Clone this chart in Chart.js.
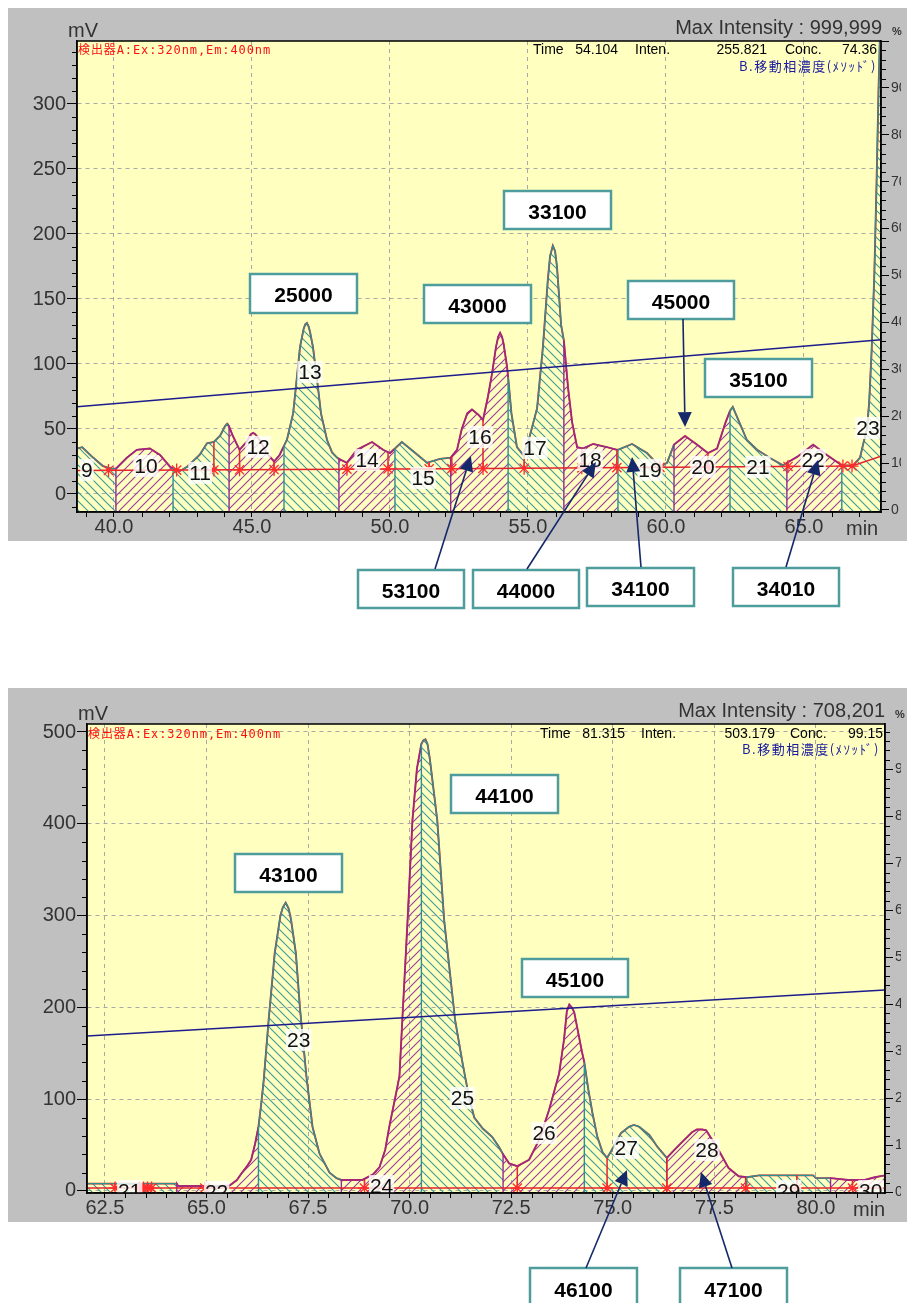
<!DOCTYPE html>
<html>
<head>
<meta charset="utf-8">
<script src="https://cdn.jsdelivr.net/npm/chart.js@4/dist/chart.umd.min.js"></script>
<style>
  html, body { margin: 0; padding: 0; background: #fff; }
  #wrap { position: relative; width: 907px; height: 1303px; overflow: hidden; }
  canvas { position: absolute; left: 0; }
</style>
</head>
<body>
<div id="wrap">
  <canvas id="runA" width="907" height="650" style="top:0px"></canvas>
  <canvas id="runB" width="907" height="653" style="top:650px"></canvas>
</div>
<script>
// ---------- Run A (38.7 – 67.8 min) ----------
const timeA = [
  38.66, 38.85, 39.24, 39.6, 39.9, 40.07, 40.47, 40.83, 41.3, 41.67,
  42.03, 42.14, 42.39, 42.64, 43.1, 43.37, 43.62, 43.85, 44.02, 44.1, 44.17,
  44.3, 44.55, 44.8, 44.96, 45.04, 45.12, 45.3, 45.55, 45.8, 46.0, 46.16, 46.27,
  46.49, 46.59, 46.74, 46.87, 46.93, 46.99, 47.05, 47.1, 47.21, 47.39, 47.5, 47.72,
  47.9, 48.08, 48.15, 48.44, 48.8, 49.35, 49.75, 50.0, 50.18, 50.43,
  50.83, 51.34, 51.81, 52.2, 52.43, 52.6, 52.8, 52.97, 53.2, 53.37,
  53.55, 53.7, 53.84, 53.92, 53.99, 54.06, 54.12, 54.24, 54.28, 54.4, 54.6, 54.83,
  55.07, 55.33, 55.54, 55.72, 55.8, 55.9, 55.98, 56.05, 56.2, 56.3, 56.45, 56.6,
  56.78, 56.99, 57.36, 57.86, 58.22, 58.26, 58.77, 59.31, 59.78, 60.04,
  60.29, 60.69, 61.12, 61.52, 61.85, 62.14, 62.32, 62.42, 62.68, 62.93,
  63.3, 63.77, 64.24, 64.38, 64.75, 65.33, 65.83, 66.37, 66.78, 67.03,
  67.14, 67.28, 67.36, 67.45, 67.55, 67.63, 67.7, 67.76, 67.79
];
const signalA = [
  35, 36, 28, 21.5, 19.5, 19.5, 28, 34, 35, 30,
  21, 19.5, 17.7, 20.8, 30, 39, 40, 45, 52, 54, 52,
  45, 34, 40, 46, 47, 46, 41, 31, 25, 30, 37, 42,
  62, 82, 113, 127, 130.5, 131.5, 129, 125, 113, 82, 62, 41.5,
  32, 28, 27, 24, 34, 40, 34, 31.5, 35, 40,
  33, 24, 27, 28, 34, 50, 62, 65, 61, 57,
  75, 93, 113, 121, 124, 121, 115, 98, 90, 62, 36, 30,
  45, 66, 113, 165, 183, 191, 187, 175, 130, 118, 82, 55,
  36, 35, 38.5, 36, 34, 34, 38.5, 31.5, 21, 24,
  38, 44.6, 38, 31.5, 35, 54, 64, 67, 54, 41.5,
  34, 27.7, 22, 24, 28.5, 38, 30, 22, 22, 28,
  38, 50, 70, 110, 170, 240, 310, 360, 370
];
const cutsA = [38.66, 40.07, 42.14, 44.17, 46.16, 48.15, 50.18, 52.2, 54.28, 56.3, 58.26, 60.29, 62.32, 64.38, 66.37, 67.79];
const peakNoA = ['9', '10', '11', '12', '13', '14', '15', '16', '17', '18', '19', '20', '21', '22', '23'];
const baseTimeA = [38.66, 52.2, 66.74, 67.79];
const baseLevelA = [18, 19.5, 21.5, 29];
const markTimeA = [39.8, 42.27, 43.62, 44.55, 45.8, 48.44, 49.93, 51.42, 52.24, 53.37, 54.86, 56.95, 58.22, 59.78, 61.52, 64.42, 66.41, 66.74];
const markBaseA = [18.1, 18.4, 18.5, 18.6, 18.8, 19.1, 19.3, 19.4, 19.5, 19.7, 19.8, 20.1, 20.3, 20.5, 20.8, 21.2, 21.5, 21.5];
const markTopA  = [20, 18.5, 40, 34, 25, 24, 32, 24.5, 29, 57, 30.5, 35, 34, 21, 31.5, 24.5, 22, 22];
const gradTimeA = [38.66, 67.79];
const gradConcA = [22.0, 36.3];

// ---------- Run B (62.1 – 81.7 min) ----------
const timeB = [
  62.06, 62.5, 63.0, 63.5, 64.0, 64.27, 64.3, 64.8, 65.3, 65.57,
  65.75, 65.87, 66.0, 66.1, 66.2, 66.28, 66.34, 66.41, 66.53, 66.68,
  66.82, 66.88, 66.95, 67.02, 67.08, 67.2, 67.3, 67.46, 67.61, 67.78, 68.03, 68.2,
  68.32, 68.84, 69.1, 69.26, 69.4, 69.5, 69.67, 69.75, 69.82, 69.95,
  70.07, 70.18, 70.29, 70.34, 70.39, 70.44, 70.5, 70.68, 70.85, 71.12, 71.3, 71.45,
  71.59, 71.8, 72.03, 72.2, 72.3, 72.45, 72.65, 72.94, 73.19, 73.43,
  73.68, 73.8, 73.87, 73.93, 73.99, 74.05, 74.24, 74.3, 74.4, 74.5, 74.62, 74.75,
  74.86, 74.98, 75.2, 75.4, 75.52, 75.65, 75.9, 76.1, 76.33, 76.5, 76.7, 76.95, 77.07,
  77.2, 77.3, 77.6, 77.85, 78.1, 78.3, 78.6, 79.2, 79.93, 80.0, 80.36,
  80.8, 81.2, 81.45, 81.7
];
const signalB = [
  8, 8, 8, 8, 8, 8, 5.5, 5.5, 5.5, 6,
  12, 19.6, 27, 34, 52, 70, 92, 121, 186, 259,
  300, 309, 314, 308, 296, 259, 200, 125, 70, 41, 20, 14,
  12, 12, 18, 26, 45, 70, 107, 125, 186, 295,
  404, 460, 487, 491, 492, 487, 470, 404, 295, 186, 140, 105,
  80, 68, 59, 48, 40, 30, 27, 34, 56, 88,
  128, 165, 196, 203, 200, 195, 152, 140, 110, 85, 59, 42,
  36, 45, 63, 70, 72, 70, 61, 48, 36, 44, 53, 64, 67,
  67, 66, 45, 25, 16, 15, 17, 17, 17, 14, 14,
  12, 12, 15, 17
];
const cutsB = [62.06, 64.27, 66.28, 68.32, 70.29, 72.3, 74.3, 76.33, 78.3, 80.36, 81.7];
const peakNoB = ['21', '22', '23', '24', '25', '26', '27', '28', '29', '30'];
const baseTimeB = [62.06, 81.7];
const baseLevelB = [3.2, 3.2];
const markTimeB = [62.75, 63.35, 63.45, 63.55, 63.65, 64.96, 68.89, 72.65, 74.86, 76.33, 78.27, 79.53, 80.9];
const markBaseB = [3.2, 3.2, 3.2, 3.2, 3.2, 3.2, 3.2, 3.2, 3.2, 3.2, 3.2, 3.2, 3.2];
const markTopB  = [8, 8, 8, 8, 8, 5.5, 12, 27, 36, 36, 15, 17, 12];
const gradTimeB = [62.06, 81.7];
const gradConcB = [33.2, 43.0];

// Fraction codes written next to the peaks
const codesA = ['25000', '43000', '33100', '45000', '35100', '53100', '44000', '34100', '34010'];
const codesB = ['44100', '43100', '45100', '46100', '47100'];

// ---------- styling ----------
const PLOT_BG = '#ffffc0', PANEL = '#c0c0c0';
const TEAL = '#3a9c9c', PURPLE = '#9c3a9c';
const TEAL_EDGE = '#2b9090', PURPLE_EDGE = '#902b90';
const TRACE = '#e4242c', STAR = '#ff2a2a', GRAD = '#1c1c8c', ARROW = '#14286a';
const SANS = '"Liberation Sans", Arial, sans-serif';
const JP = '"DejaVu Sans Mono", "Noto Sans CJK JP", monospace';

function hatch(ctx, color, dir) {
  const s = 9, c = document.createElement('canvas');
  c.width = s; c.height = s;
  const g = c.getContext('2d');
  g.strokeStyle = color; g.lineWidth = 1.1;
  g.beginPath();
  if (dir > 0) {            // rising hatch  /
    g.moveTo(0, s); g.lineTo(s, 0);
    g.moveTo(-1, 1); g.lineTo(1, -1);
    g.moveTo(s - 1, s + 1); g.lineTo(s + 1, s - 1);
  } else {                  // falling hatch \
    g.moveTo(0, 0); g.lineTo(s, s);
    g.moveTo(-1, s - 1); g.lineTo(1, s + 1);
    g.moveTo(s - 1, -1); g.lineTo(s + 1, 1);
  }
  g.stroke();
  return ctx.createPattern(c, 'repeat');
}

function xy(ts, vs) { return ts.map((t, i) => ({ x: t, y: vs[i] })); }

function minorTicks(ctx, scale, step, major, len, side) {
  const n0 = Math.ceil(scale.min / step - 1e-9), n1 = Math.floor(scale.max / step + 1e-9);
  const per = Math.round(major / step);
  ctx.beginPath();
  for (let n = n0; n <= n1; n++) {
    if (n % per === 0) continue;
    const p = Math.round(scale.getPixelForValue(n * step)) + 0.5;
    if (side === 'bottom') { ctx.moveTo(p, scale.top); ctx.lineTo(p, scale.top + len); }
    else if (side === 'left') { ctx.moveTo(scale.right, p); ctx.lineTo(scale.right - len, p); }
    else { ctx.moveTo(scale.left, p); ctx.lineTo(scale.left + len, p); }
  }
  ctx.stroke();
}

function text(ctx, s, x, y, font, color, align, spacing) {
  ctx.save();
  ctx.font = font; ctx.fillStyle = color; ctx.textAlign = align || 'left';
  ctx.textBaseline = 'alphabetic';
  if (spacing && 'letterSpacing' in ctx) ctx.letterSpacing = spacing + 'px';
  ctx.fillText(s, x, y);
  ctx.restore();
}

const decor = {
  id: 'decor',
  beforeDraw(chart, args, o) {
    const { ctx, chartArea: a } = chart;
    ctx.save();
    ctx.fillStyle = '#fff'; ctx.fillRect(0, 0, chart.width, chart.height);
    ctx.fillStyle = PANEL; ctx.fillRect(o.panel[0], o.panel[1], o.panel[2], o.panel[3]);
    ctx.fillStyle = PLOT_BG; ctx.fillRect(a.left, a.top, a.right - a.left, a.bottom - a.top);
    ctx.restore();
  },
  afterDatasetsDraw(chart, args, o) {
    const { ctx, chartArea: a, scales } = chart;
    ctx.save();
    ctx.beginPath(); ctx.rect(a.left, a.top, a.right - a.left, a.bottom - a.top); ctx.clip();
    ctx.font = '21px ' + SANS; ctx.textAlign = 'center'; ctx.textBaseline = 'middle';
    o.peakNo.forEach((no, i) => {
      const px = scales.x.getPixelForValue(o.peakAt[i][0]);
      const py = scales.y.getPixelForValue(o.peakAt[i][1]);
      const w = ctx.measureText(no).width;
      ctx.fillStyle = 'rgba(255,255,255,0.8)';
      ctx.fillRect(px - w / 2 - 1, py - 11, w + 2, 22);
      ctx.fillStyle = '#111';
      ctx.fillText(no, px, py + 1);
    });
    ctx.restore();
  },
  afterDraw(chart, args, o) {
    const { ctx, chartArea: a, scales } = chart;
    const dy = o.offset;
    ctx.save();
    // frame
    ctx.strokeStyle = '#000'; ctx.lineWidth = 1.5;
    ctx.strokeRect(a.left, a.top, a.right - a.left, a.bottom - a.top);
    // minor ticks
    ctx.lineWidth = 1; ctx.strokeStyle = '#000';
    minorTicks(ctx, scales.x, o.minor.x[0], o.minor.x[1], 5, 'bottom');
    minorTicks(ctx, scales.y, o.minor.y[0], o.minor.y[1], 5, 'left');
    minorTicks(ctx, scales.yR, o.minor.r[0], o.minor.r[1], 5, 'right');
    ctx.restore();

    // header texts
    o.texts.forEach(t => text(ctx, t[0], t[1], t[2] - dy, t[3], t[4], t[5], t[6]));

    // fraction boxes
    ctx.save();
    o.boxes.forEach((b, i) => {
      const [x, y, w, h] = b;
      ctx.fillStyle = '#fff'; ctx.fillRect(x, y - dy, w, h);
      ctx.strokeStyle = '#4f9c9c'; ctx.lineWidth = 2.5;
      ctx.strokeRect(x, y - dy, w, h);
      ctx.fillStyle = '#000'; ctx.font = 'bold 21px ' + SANS;
      ctx.textAlign = 'center'; ctx.textBaseline = 'middle';
      ctx.fillText(o.codes[i], x + w / 2, y - dy + h / 2 + 3);
    });
    // arrows to peaks
    ctx.strokeStyle = ARROW; ctx.fillStyle = ARROW; ctx.lineWidth = 1.6;
    o.arrows.forEach(ar => {
      const x0 = ar[0], y0 = ar[1] - dy;
      const x1 = scales.x.getPixelForValue(ar[2]), y1 = scales.y.getPixelForValue(ar[3]);
      const ang = Math.atan2(y1 - y0, x1 - x0), L = 15, W = 7;
      const bx = x1 - L * Math.cos(ang), by = y1 - L * Math.sin(ang);
      ctx.beginPath(); ctx.moveTo(x0, y0); ctx.lineTo(bx, by); ctx.stroke();
      ctx.beginPath();
      ctx.moveTo(x1, y1);
      ctx.lineTo(bx + W * Math.sin(ang), by - W * Math.cos(ang));
      ctx.lineTo(bx - W * Math.sin(ang), by + W * Math.cos(ang));
      ctx.closePath(); ctx.fill();
    });
    ctx.restore();
  }
};

function buildRun(canvasId, d, lay) {
  const canvas = document.getElementById(canvasId);
  const ctx = canvas.getContext('2d');
  const tealHatch = hatch(ctx, TEAL, -1), purpleHatch = hatch(ctx, PURPLE, 1);
  const yMin = lay.yRange[0];
  const pts = xy(d.time, d.signal);
  const datasets = [];

  d.cuts.slice(0, -1).forEach((c, k) => {
    const i0 = d.time.indexOf(c), i1 = d.time.indexOf(d.cuts[k + 1]);
    const seg = pts.slice(i0, i1 + 1);
    const teal = k % 2 === 0;
    // hatched area under one peak
    datasets.push({
      data: [{ x: c, y: yMin }, ...seg, { x: d.cuts[k + 1], y: yMin }],
      fill: 'start', backgroundColor: teal ? tealHatch : purpleHatch,
      borderColor: 'rgba(0,0,0,0)', borderWidth: 0, order: 300 - k
    });
    // its outline with the drop line on the left
    datasets.push({
      data: k === 0 ? seg : [{ x: c, y: yMin }, ...seg],
      fill: false, borderColor: teal ? TEAL_EDGE : PURPLE_EDGE, borderWidth: 1.4, order: 100 - k
    });
  });
  // detector trace
  datasets.push({ data: pts, borderColor: TRACE, borderWidth: 1.9, order: 150 });
  // mobile phase B gradient
  datasets.push({ data: xy(d.gradTime, d.gradConc), yAxisID: 'yR', borderColor: GRAD, borderWidth: 1.6, order: 40 });
  // integration baseline
  datasets.push({ data: xy(d.baseTime, d.baseLevel), borderColor: TRACE, borderWidth: 1.5, order: 30 });
  // peak start / end marks
  d.markTime.forEach((t, i) => datasets.push({
    data: [{ x: t, y: d.markBase[i] }, { x: t, y: d.markTop[i] }],
    borderColor: TRACE, borderWidth: 1.5, order: 20
  }));
  datasets.push({
    data: xy(d.markTime, d.markBase), showLine: false, pointStyle: 'star',
    pointRadius: 6.5, pointBorderColor: STAR, pointBackgroundColor: STAR, pointBorderWidth: 1.3, order: 10
  });

  const tickFont = { family: '"Liberation Sans", Arial, sans-serif', size: 20 };
  new Chart(ctx, {
    type: 'line',
    data: { datasets },
    plugins: [decor],
    options: {
      responsive: false, animation: false, events: [],
      layout: { padding: lay.padding },
      elements: { point: { radius: 0 }, line: { tension: 0 } },
      plugins: {
        legend: { display: false }, tooltip: { enabled: false },
        decor: {
          panel: lay.panel, offset: lay.offset, minor: lay.minor,
          peakNo: d.peakNo, peakAt: lay.peakAt, texts: lay.texts,
          boxes: lay.boxes, codes: d.codes, arrows: lay.arrows
        }
      },
      scales: {
        x: {
          type: 'linear', position: 'bottom', min: lay.xRange[0], max: lay.xRange[1],
          ticks: { stepSize: lay.xStep, includeBounds: false, autoSkip: false, maxRotation: 0,
                   callback: v => v.toFixed(1), font: tickFont, color: '#333', padding: -2 },
          grid: { color: '#a8a8a8', tickColor: '#000', tickLength: 5, lineWidth: 1 },
          border: { color: '#000', width: 1.5, dash: [4, 4] },
          afterFit: s => { s.height = 30; }
        },
        y: {
          type: 'linear', position: 'left', min: lay.yRange[0], max: lay.yRange[1],
          ticks: { stepSize: lay.yStep, includeBounds: false, font: tickFont, color: '#333', padding: 1,
                   callback: v => String(v) },
          grid: { color: '#a8a8a8', tickColor: '#000', tickLength: 10, lineWidth: 1 },
          border: { color: '#000', width: 1.5, dash: [4, 4] },
          afterFit: s => { s.width = lay.leftW; }
        },
        yR: {
          type: 'linear', position: 'right', min: lay.rRange[0], max: lay.rRange[1],
          ticks: { stepSize: 10, includeBounds: false, font: { family: '"Liberation Sans", Arial, sans-serif', size: 14 },
                   color: '#333', padding: 2, callback: v => (v >= 0 && v <= 90 ? String(v) : '') },
          grid: { drawOnChartArea: false, tickColor: '#000', tickLength: 8 },
          border: { color: '#000', width: 1.5 },
          afterFit: s => { s.width = lay.rightW; }
        }
      }
    }
  });
}

const BLUE_JP = '#1a1aa0';
buildRun('runA', {
  time: timeA, signal: signalA, cuts: cutsA, peakNo: peakNoA,
  baseTime: baseTimeA, baseLevel: baseLevelA,
  markTime: markTimeA, markBase: markBaseA, markTop: markTopA,
  gradTime: gradTimeA, gradConc: gradConcA, codes: codesA
}, {
  offset: 0, panel: [8, 8, 899, 533],
  padding: { left: 8, right: 6, top: 41, bottom: 108 }, leftW: 69, rightW: 20,
  xRange: [38.66, 67.79], yRange: [-13.85, 348.46], rRange: [-0.43, 100],
  xStep: 5, yStep: 50,
  minor: { x: [1, 5], y: [10, 50], r: [2, 10] },
  peakAt: [[39.02, 18.5], [41.16, 21.5], [43.12, 16.2], [45.22, 36.2], [47.10, 93.8], [49.17, 26.2],
           [51.20, 12.3], [53.26, 43.8], [55.25, 35.4], [57.25, 26.2], [59.42, 18.5], [61.34, 20.8],
           [63.33, 20.8], [65.33, 26.2], [67.32, 50.8]],
  texts: [
    ['mV', 68, 37, '20px ' + SANS, '#333', 'left'],
    ['Max Intensity : 999,999', 882, 34, '20px ' + SANS, '#333', 'right'],
    ['%', 892, 35, 'bold 11px ' + SANS, '#333', 'left'],
    ['検出器A:Ex:320nm,Em:400nm', 78, 54, '12px ' + JP, '#ff1010', 'left', 0.9],
    ['Time', 533, 54, '14px ' + SANS, '#000', 'left'],
    ['54.104', 618, 54, '14px ' + SANS, '#000', 'right'],
    ['Inten.', 635, 54, '14px ' + SANS, '#000', 'left'],
    ['255.821', 767, 54, '14px ' + SANS, '#000', 'right'],
    ['Conc.', 785, 54, '14px ' + SANS, '#000', 'left'],
    ['74.36', 877, 54, '14px ' + SANS, '#000', 'right'],
    ['B.移動相濃度(ﾒｿｯﾄﾞ)', 877, 71, '13px "Noto Sans CJK JP", sans-serif', BLUE_JP, 'right', 1.5],
    ['min', 846, 535, '20px ' + SANS, '#333', 'left']
  ],
  boxes: [[250, 274, 107, 39], [424, 285, 107, 38], [504, 191, 107, 38], [628, 281, 106, 38], [705, 359, 107, 38],
          [358, 570, 106, 38], [473, 570, 106, 38], [587, 568, 107, 38], [733, 568, 106, 38]],
  arrows: [[683, 319, 60.69, 51.5], [435, 569, 52.93, 29.2], [527, 569, 57.46, 24.6],
           [641, 567, 58.77, 28.5], [786, 567, 65.51, 26.2]]
});

buildRun('runB', {
  time: timeB, signal: signalB, cuts: cutsB, peakNo: peakNoB,
  baseTime: baseTimeB, baseLevel: baseLevelB,
  markTime: markTimeB, markBase: markBaseB, markTop: markTopB,
  gradTime: gradTimeB, gradConc: gradConcB, codes: codesB
}, {
  offset: 650, panel: [8, 38, 899, 534],
  padding: { left: 8, right: 6, top: 74, bottom: 80 }, leftW: 79, rightW: 16,
  xRange: [62.06, 81.7], yRange: [-2.2, 508.7], rRange: [-0.2, 99.6],
  xStep: 2.5, yStep: 100,
  minor: { x: [0.5, 2.5], y: [20, 100], r: [2, 10] },
  peakAt: [[63.11, 0], [65.25, -1], [67.27, 164.5], [69.31, 5.4], [71.30, 101.3], [73.31, 63.2],
           [75.33, 46.8], [77.32, 44.7], [79.33, 0], [81.35, 0]],
  texts: [
    ['mV', 78, 720, '20px ' + SANS, '#333', 'left'],
    ['Max Intensity : 708,201', 885, 717, '20px ' + SANS, '#333', 'right'],
    ['%', 895, 718, 'bold 11px ' + SANS, '#333', 'left'],
    ['検出器A:Ex:320nm,Em:400nm', 88, 738, '12px ' + JP, '#ff1010', 'left', 0.9],
    ['Time', 540, 738, '14px ' + SANS, '#000', 'left'],
    ['81.315', 625, 738, '14px ' + SANS, '#000', 'right'],
    ['Inten.', 641, 738, '14px ' + SANS, '#000', 'left'],
    ['503.179', 775, 738, '14px ' + SANS, '#000', 'right'],
    ['Conc.', 790, 738, '14px ' + SANS, '#000', 'left'],
    ['99.15', 883, 738, '14px ' + SANS, '#000', 'right'],
    ['B.移動相濃度(ﾒｿｯﾄﾞ)', 880, 754, '13px "Noto Sans CJK JP", sans-serif', BLUE_JP, 'right', 1.5],
    ['min', 853, 1216, '20px ' + SANS, '#333', 'left']
  ],
  boxes: [[451, 775, 107, 38], [235, 854, 107, 38], [522, 959, 106, 38], [530, 1268, 107, 40], [680, 1268, 107, 40]],
  arrows: [[586, 1268, 75.35, 22.9], [732, 1268, 77.17, 20.7]]
});
</script>
</body>
</html>
